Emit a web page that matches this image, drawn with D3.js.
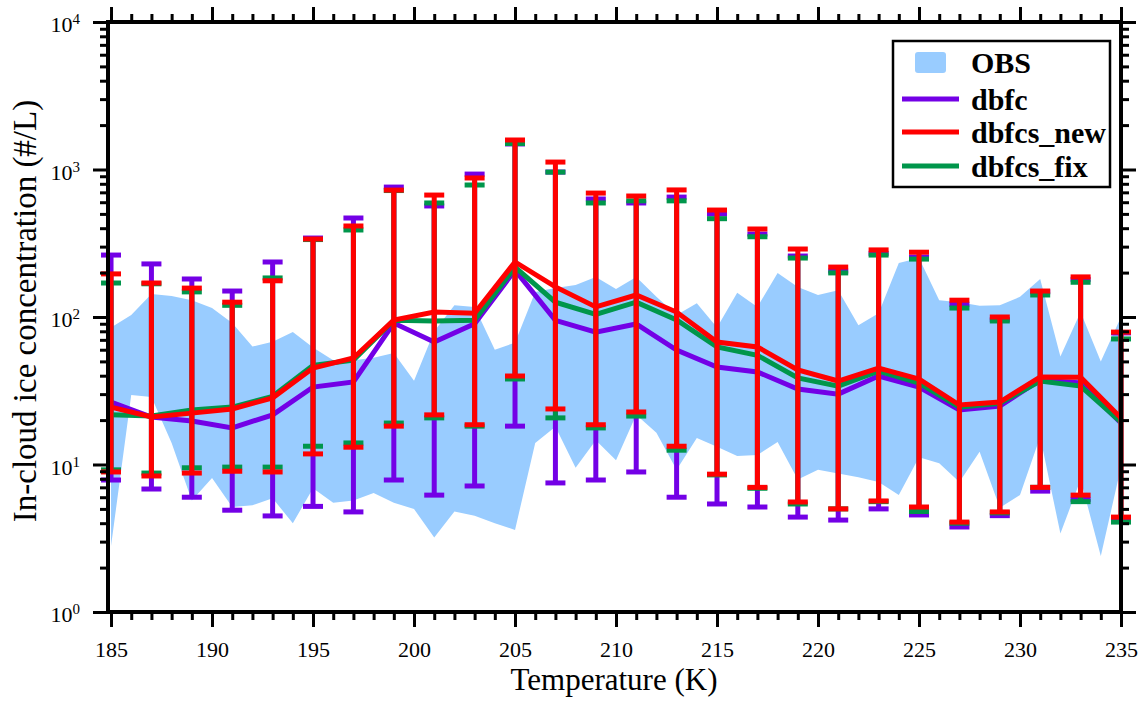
<!DOCTYPE html>
<html>
<head>
<meta charset="utf-8">
<script src="https://cdn.jsdelivr.net/npm/d3@7"></script>
<style>
  body { margin: 0; background: #fff; }
  text { font-family: "Liberation Serif", "Times New Roman", serif; fill: #000; }
</style>
</head>
<body>
<svg width="1143" height="702"></svg>
<script>
// model temperatures (K)
var temps = [185, 187, 189, 191, 193, 195, 197, 199, 201, 203, 205, 207, 209,
  211, 213, 215, 217, 219, 221, 223, 225, 227, 229, 231, 233, 235];

// dbfc
var dbfcMean = [26.5, 21, 19.7, 17.7, 21.7, 33.5, 36.3, 91, 67.7, 90, 208, 95, 79,
  89.7, 59.7, 45.8, 42.4, 32.5, 30, 39.8, 33.5, 23.4, 24.9, 37.4, 35.7, 19.1];
var dbfcHigh = [263, 229, 181, 150, 236, 343, 469, 760, 566, 931, 1490, 961, 631,
  593, 650, 499, 365, 259, 205, 270, 255, 122, 96, 148, 180, 78];
var dbfcLow = [7.85, 6.82, 6.0, 4.9, 4.48, 5.2, 4.77, 7.85, 6.2, 7.15, 18.2, 7.5, 7.85,
  8.9, 6.0, 5.4, 5.15, 4.4, 4.2, 5.0, 4.55, 3.77, 4.5, 6.6, 5.8, 4.27];

// dbfcs_new
var newMean = [24.5, 21, 22.3, 23.8, 28.3, 45.1, 52.7, 95.5, 108, 106, 236, 160, 117,
  141, 108, 67.7, 62.7, 43.7, 36.8, 45, 38, 25.3, 26.5, 39.2, 39, 20.7];
var newHigh = [196, 170, 157, 126, 176, 338, 414, 725, 671, 876, 1585, 1123, 692,
  661, 727, 531, 395, 289, 218, 285, 275, 130, 100, 150, 187, 79];
var newLow = [8.9, 8.36, 8.75, 9.0, 8.9, 11.8, 13.1, 18.2, 21.7, 18.6, 39.8, 23.8, 18.6,
  22.7, 13.3, 8.6, 7.0, 5.57, 5.0, 5.66, 5.15, 4.07, 4.77, 7.0, 6.2, 4.4];

// dbfcs_fix
var fixMean = [21.7, 21.3, 23.4, 24.5, 29, 47, 51, 95, 94, 95, 218, 126, 104,
  126, 95.5, 62.7, 55, 38.6, 34, 43, 35.7, 24.5, 26, 36.8, 34, 19.4];
var fixHigh = [170, 168, 148, 120, 184, 335, 389, 720, 593, 785, 1500, 960, 593,
  613, 613, 464, 350, 251, 199, 263, 247, 115, 94, 141, 172, 71];
var fixLow = [9.2, 8.75, 9.5, 9.6, 9.6, 13.3, 14, 19.1, 20.7, 18.2, 38, 20.7, 17.7,
  21.3, 12.5, 8.5, 6.9, 5.4, 5.0, 5.6, 4.8, 4.0, 4.7, 7.0, 5.6, 4.07];

// observations, 1 K bins
var obsT = [185, 186, 187, 188, 189, 190, 191, 192, 193, 194, 195, 196, 197, 198, 199,
  200, 201, 202, 203, 204, 205, 206, 207, 208, 209, 210, 211, 212, 213, 214, 215,
  216, 217, 218, 219, 220, 221, 222, 223, 224, 225, 226, 227, 228, 229, 230, 231,
  232, 233, 234, 235];
var obsHigh = [85, 103, 143, 139, 130, 115, 91, 63, 68, 79, 62, 51, 51, 53, 57,
  37, 80, 120, 117, 60, 67, 148, 157, 165, 187, 155, 187, 137, 103, 124, 85,
  146, 117, 199, 160, 141, 152, 88, 106, 232, 251, 130, 126, 119, 120, 137, 181,
  54, 108, 50, 100];
var obsLow = [2.8, 29.6, 28.7, 14, 5.7, 8.1, 5.15, 5.3, 5.9, 4.0, 6.9, 5.5, 5.7, 6.4, 5.5,
  5.0, 3.2, 4.8, 4.5, 4.0, 3.6, 14, 18, 9.5, 14.6, 10.7, 21.7, 16.4, 9.2, 15.1, 13.2,
  11.4, 11.6, 14.2, 7.9, 9.2, 8.7, 8.2, 7.6, 6.2, 11.2, 10.2, 7.6, 12.2, 5.1, 6.2, 15.4,
  3.4, 7.9, 2.4, 9.6];

var xMajor = [185, 190, 195, 200, 205, 210, 215, 220, 225, 230, 235];
var yMajor = [1, 10, 100, 1000, 10000];

var legendNames = ["OBS", "dbfc", "dbfcs_new", "dbfcs_fix"];
var obsColor = "#99ccff";
var seriesColors = { dbfc: "#7300e6", dbfcs_new: "#ff0000", dbfcs_fix: "#00964b" };

// define margins and canvas
var svg = d3.select("svg"),
  margin = { top: 22, right: 22, bottom: 90, left: 108 },
  width = +svg.attr("width") - margin.left - margin.right,
  height = +svg.attr("height") - margin.top - margin.bottom,
  g = svg.append("g").attr("transform", "translate(" + margin.left + "," + margin.top + ")");

var x = d3.scaleLinear().domain([184.85, 235]).range([0, width]),
  y = d3.scaleLog().domain([1, 10000]).range([height, 0]);

// OBS shaded range
var obs = obsT.map(function(t, i) { return { t: t, lo: obsLow[i], hi: obsHigh[i] }; });
g.append("path")
  .datum(obs)
  .attr("fill", obsColor)
  .attr("d", d3.area()
    .x(function(d) { return x(d.t); })
    .y0(function(d) { return y(d.lo); })
    .y1(function(d) { return y(d.hi); }));

// model series, drawn purple -> green -> red
var series = [
  { name: "dbfc", mean: dbfcMean, lo: dbfcLow, hi: dbfcHigh },
  { name: "dbfcs_fix", mean: fixMean, lo: fixLow, hi: fixHigh },
  { name: "dbfcs_new", mean: newMean, lo: newLow, hi: newHigh }
];

var line = d3.line()
  .x(function(d) { return x(d.t); })
  .y(function(d) { return y(d.v); });

var capW = 10;
series.forEach(function(s) {
  var col = seriesColors[s.name];
  var pts = temps.map(function(t, i) { return { t: t, v: s.mean[i], lo: s.lo[i], hi: s.hi[i] }; });
  var sg = g.append("g").attr("class", "series " + s.name)
    .attr("stroke", col).attr("stroke-width", 5).attr("fill", "none");

  var eb = sg.selectAll(".err").data(pts).enter().append("g").attr("class", "err");
  eb.append("line")
    .attr("x1", function(d) { return x(d.t); }).attr("x2", function(d) { return x(d.t); })
    .attr("y1", function(d) { return y(d.lo); }).attr("y2", function(d) { return y(d.hi); });
  eb.append("line")
    .attr("x1", function(d) { return x(d.t) - capW; }).attr("x2", function(d) { return x(d.t) + capW; })
    .attr("y1", function(d) { return y(d.hi); }).attr("y2", function(d) { return y(d.hi); });
  eb.append("line")
    .attr("x1", function(d) { return x(d.t) - capW; }).attr("x2", function(d) { return x(d.t) + capW; })
    .attr("y1", function(d) { return y(d.lo); }).attr("y2", function(d) { return y(d.lo); });

  sg.append("path")
    .datum(pts)
    .attr("stroke-linejoin", "miter")
    .attr("d", line);
});

// axes: ticks point outward on all four sides
var xMinor = d3.range(185, 236, 1);
var yMinor = [];
[1, 10, 100, 1000].forEach(function(dec) {
  for (var k = 2; k <= 9; k++) yMinor.push(dec * k);
});

function styleAxis(sel) {
  sel.attr("font-family", null).attr("font-size", null);
  sel.select(".domain").remove();
  sel.selectAll(".tick line").attr("stroke", "#000").attr("stroke-width", 3);
}

// bottom
g.append("g")
  .attr("transform", "translate(0," + height + ")")
  .call(d3.axisBottom(x).tickValues(xMinor).tickSize(8).tickFormat(""))
  .call(styleAxis);
g.append("g")
  .attr("class", "axis axisx")
  .attr("transform", "translate(0," + height + ")")
  .call(d3.axisBottom(x).tickValues(xMajor).tickSize(15).tickPadding(14).tickFormat(d3.format("d")))
  .call(styleAxis);
// top
g.append("g")
  .call(d3.axisTop(x).tickValues(xMinor).tickSize(8).tickFormat(""))
  .call(styleAxis);
g.append("g")
  .call(d3.axisTop(x).tickValues(xMajor).tickSize(15).tickFormat(""))
  .call(styleAxis);
// left
g.append("g")
  .call(d3.axisLeft(y).tickValues(yMinor).tickSize(8).tickFormat(""))
  .call(styleAxis);
g.append("g")
  .attr("class", "axis axisy")
  .call(d3.axisLeft(y).tickValues(yMajor).tickSize(15).tickPadding(13).tickFormat(""))
  .call(styleAxis);
// right
g.append("g")
  .attr("transform", "translate(" + width + ",0)")
  .call(d3.axisRight(y).tickValues(yMinor).tickSize(8).tickFormat(""))
  .call(styleAxis);
g.append("g")
  .attr("transform", "translate(" + width + ",0)")
  .call(d3.axisRight(y).tickValues(yMajor).tickSize(15).tickFormat(""))
  .call(styleAxis);

g.selectAll(".axisx .tick text")
  .attr("font-size", 22);

// 10^n labels
g.selectAll(".axisy .tick text")
  .attr("font-size", 22)
  .attr("dy", "0.45em")
  .each(function(d) {
    var t = d3.select(this);
    t.append("tspan").text("10");
    t.append("tspan").attr("dy", "-0.55em").attr("font-size", 15).text(Math.round(Math.log10(d)));
  });

// frame
g.append("rect")
  .attr("width", width).attr("height", height)
  .attr("fill", "none").attr("stroke", "#000").attr("stroke-width", 4);

// axis titles
svg.append("text")
  .attr("x", 614)
  .attr("y", 690)
  .attr("text-anchor", "middle")
  .attr("font-size", 31)
  .text("Temperature (K)");

svg.append("text")
  .attr("transform", "translate(36," + 311 + ") rotate(-90)")
  .attr("text-anchor", "middle")
  .attr("font-size", 33)
  .text("In-cloud ice concentration (#/L)");

// legend
var legend = svg.append("g").attr("transform", "translate(893,41)");
legend.append("rect")
  .attr("width", 217).attr("height", 146)
  .attr("fill", "#fff").attr("stroke", "#000").attr("stroke-width", 2.5);

var rowY = [21, 58, 91, 125];
legendNames.forEach(function(name, i) {
  var row = legend.append("g").attr("transform", "translate(0," + rowY[i] + ")");
  if (name === "OBS") {
    row.append("rect")
      .attr("x", 22).attr("y", -10).attr("width", 31).attr("height", 21)
      .attr("rx", 3).attr("fill", obsColor);
  } else {
    row.append("line")
      .attr("x1", 9).attr("x2", 66)
      .attr("stroke", seriesColors[name]).attr("stroke-width", 5);
  }
  row.append("text")
    .attr("x", 78).attr("dy", "0.36em")
    .attr("font-size", 30).attr("font-weight", "bold")
    .text(name);
});
</script>
</body>
</html>
